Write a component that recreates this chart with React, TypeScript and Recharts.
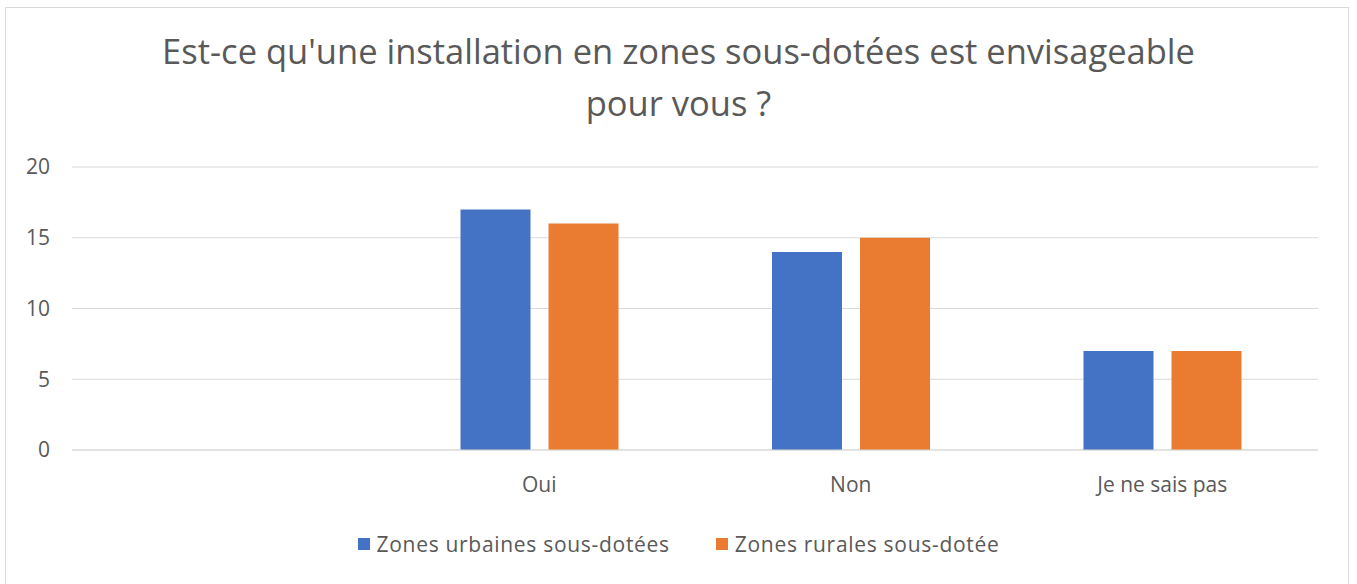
import React from "react";
import { BarChart, Bar, XAxis, YAxis, CartesianGrid } from "recharts";

const categories = ["", "Oui", "Non", "Je ne sais pas"];
const urbaines = [null, 17, 14, 7];
const rurales = [null, 16, 15, 7];
const yTicks = [0, 5, 10, 15, 20];
const seriesNames = ["Zones urbaines sous-dotées", "Zones rurales sous-dotée"];
const seriesColors = ["#4472C4", "#E97C30"];
const titleLines = [
  "Est-ce qu'une installation en zones sous-dotées est envisageable",
  "pour vous ?",
];

const data = categories.map((c, i) => ({
  name: c,
  urbaines: urbaines[i],
  rurales: rurales[i],
}));

const FONT = "'Open Sans', Lato, sans-serif";
const GRAY = "#595959";

export default function App() {
  return (
    <div
      style={{
        position: "absolute",
        left: 0,
        top: 0,
        width: 1357,
        height: 584,
        background: "#fff",
        overflow: "hidden",
        fontFamily: FONT,
      }}
    >
      <div
        style={{
          position: "absolute",
          left: 5,
          top: 7,
          width: 1344,
          height: 600,
          border: "1px solid #d9d9d9",
          boxSizing: "border-box",
        }}
      />
      {titleLines.map((t, i) => (
        <div
          key={i}
          style={{
            position: "absolute",
            left: 0,
            width: 1357,
            top: 30 + i * 52,
            textAlign: "center",
            fontSize: 34.5,
            lineHeight: "42px",
            color: GRAY,
            whiteSpace: "nowrap",
          }}
        >
          {t}
        </div>
      ))}
      <div style={{ position: "absolute", left: 0, top: 0 }}>
        <BarChart
          width={1357}
          height={584}
          data={data}
          margin={{ top: 167, right: 39, bottom: 74, left: 0 }}
          barSize={70}
          barGap={18}
        >
          <CartesianGrid vertical={false} stroke="#d9d9d9" />
          <XAxis
            dataKey="name"
            axisLine={{ stroke: "#d9d9d9" }}
            tickLine={false}
            height={60}
            tickMargin={21}
            tick={{ fill: GRAY, fontSize: 21, fontFamily: FONT }}
            interval={0}
          />
          <YAxis
            width={72}
            domain={[0, 20]}
            ticks={yTicks}
            axisLine={false}
            tickLine={false}
            tickMargin={16}
            tick={{ fill: GRAY, fontSize: 21, fontFamily: FONT }}
          />
          <Bar dataKey="urbaines" fill={seriesColors[0]} isAnimationActive={false} />
          <Bar dataKey="rurales" fill={seriesColors[1]} isAnimationActive={false} />
        </BarChart>
      </div>
      <div
        style={{
          position: "absolute",
          top: 529,
          left: 0,
          width: 1357,
          display: "flex",
          justifyContent: "center",
          gap: 46,
          fontSize: 21,
          letterSpacing: 0.7,
          color: GRAY,
          lineHeight: "30px",
        }}
      >
        {seriesNames.map((n, i) => (
          <div key={i} style={{ display: "flex", alignItems: "center", gap: 7 }}>
            <span
              style={{
                display: "inline-block",
                width: 12,
                height: 12,
                background: seriesColors[i],
              }}
            />
            <span>{n}</span>
          </div>
        ))}
      </div>
    </div>
  );
}
